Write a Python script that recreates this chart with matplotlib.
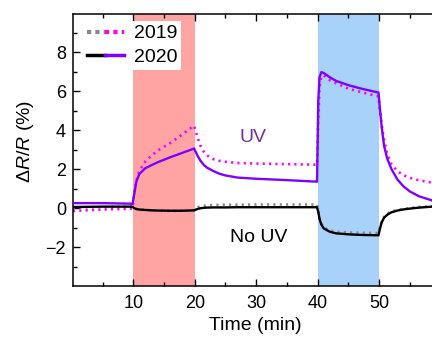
import matplotlib
matplotlib.use("Agg")
import matplotlib.pyplot as plt
from matplotlib.legend_handler import HandlerTuple
from matplotlib.lines import Line2D

plt.rcParams['font.family'] = ['Liberation Sans', 'DejaVu Sans']
plt.rcParams['mathtext.fontset'] = 'custom'
plt.rcParams['mathtext.rm'] = 'Liberation Sans'
plt.rcParams['mathtext.it'] = 'Liberation Sans:italic'

# time (min)
t = [0.2, 5, 9.9, 10.1, 10.5, 11, 12, 13, 14, 16, 18, 19.9, 20.2, 20.6, 21, 21.5, 22, 23, 24, 25,
     27, 30, 35, 39.9, 40.1, 40.3, 40.6, 41, 42, 43, 45, 47, 49.9, 50.1, 50.4, 50.8, 51.3, 52, 53,
     54, 55, 56.5, 59.5]

uv_2020 = [0.25, 0.25, 0.22, 0.6, 1.35, 1.75, 2.05, 2.2, 2.35, 2.6, 2.83, 3.05, 2.85, 2.6, 2.4, 2.2,
           2.07, 1.9, 1.76, 1.67, 1.56, 1.5, 1.43, 1.35, 5.5, 6.7, 6.97, 6.92, 6.7, 6.52, 6.3, 6.13,
           5.92, 5.2, 4.2, 3.2, 2.55, 2.0, 1.45, 1.1, 0.85, 0.6, 0.3]
uv_2019 = [-0.15, -0.08, -0.03, 0.6, 1.4, 1.9, 2.4, 2.7, 2.95, 3.33, 3.78, 4.22, 3.9, 3.5, 3.15,
           2.88, 2.7, 2.51, 2.42, 2.37, 2.31, 2.28, 2.25, 2.22, 4.5, 6.2, 6.75, 6.8, 6.55, 6.4, 6.12,
           5.95, 5.72, 5.1, 4.3, 3.5, 2.8, 2.25, 1.88, 1.68, 1.55, 1.42, 1.25]
nouv_2020 = [0.05, 0.07, 0.07, 0.0, -0.05, -0.08, -0.1, -0.12, -0.13, -0.14, -0.14, -0.12, -0.08,
             -0.04, -0.01, 0.01, 0.02, 0.03, 0.03, 0.03, 0.04, 0.04, 0.04, 0.04, -0.2, -0.55, -0.85,
             -1.05, -1.22, -1.3, -1.35, -1.38, -1.4, -1.1, -0.75, -0.5, -0.35, -0.22, -0.13, -0.07,
             -0.03, 0.02, 0.09]
nouv_2019 = [0.02, 0.05, 0.07, 0.0, -0.05, -0.08, -0.1, -0.12, -0.13, -0.15, -0.14, -0.12, -0.02,
             0.05, 0.09, 0.11, 0.13, 0.15, 0.16, 0.17, 0.17, 0.18, 0.18, 0.18, -0.15, -0.5, -0.8,
             -1.0, -1.15, -1.22, -1.25, -1.27, -1.28, -1.0, -0.7, -0.45, -0.3, -0.18, -0.1, -0.05,
             0.0, 0.05, 0.11]

red_span = (10, 20)
blue_span = (40, 50)

W, H = 432, 338
fig = plt.figure(figsize=(4.32, 3.38), dpi=100)
ax = fig.add_axes([73/W, 52/H, (440.6-73)/W, 272/H])

ax.axvspan(*red_span, color='#FFA3A3', lw=0, zorder=0)
ax.axvspan(*blue_span, color='#A8D2FA', lw=0, zorder=0)

dot = (0, (0.8, 1.6))
ax.plot(t, nouv_2019, color='#888888', lw=1.9, ls=dot, zorder=2)
ax.plot(t, nouv_2020, color='black', lw=1.7, zorder=3)
ax.plot(t, uv_2019, color='#FF00FF', lw=1.9, ls=dot, zorder=2)
ax.plot(t, uv_2020, color='#8000FF', lw=1.7, zorder=3)

ax.set_xlim(0.2, 60)
ax.set_ylim(-4, 9.95)
ax.set_xticks([10, 20, 30, 40, 50])
ax.set_xticks([5, 15, 25, 35, 45, 55], minor=True)
ax.set_yticks([-2, 0, 2, 4, 6, 8])
ax.set_yticks([-3, -1, 1, 3, 5, 7, 9], minor=True)
ax.tick_params(which='both', direction='in', top=True, right=False, labelsize=13, width=1.0)
ax.tick_params(which='major', length=5)
ax.tick_params(which='minor', length=3)
ax.tick_params(axis='x', pad=6.5)
ax.tick_params(axis='y', pad=5)
for s in ax.spines.values():
    s.set_linewidth(1.1)
ax.spines['right'].set_visible(False)

fig.text(255/W, 1-326/H, 'Time (min)', ha='center', va='center', fontsize=14)
fig.text(25/W, 1-141/H, r'Δ$R$/$R$ (%)', ha='center', va='center', rotation=90, fontsize=14)

fig.text(253/W, 1-138/H, 'UV', fontsize=14, color='#7030A0', ha='center', va='center')
fig.text(259/W, 1-238/H, 'No UV', fontsize=14, color='black', ha='center', va='center')

h19a = Line2D([], [], color='#888888', lw=3, ls=(0, (1, 1)))
h19b = Line2D([], [], color='#FF00FF', lw=3, ls=(0, (1, 1)))
h20a = Line2D([], [], color='black', lw=2.5)
h20b = Line2D([], [], color='#8000FF', lw=2.5)
leg = ax.legend([(h19a, h19b), (h20a, h20b)], ['2019', '2020'],
                handler_map={tuple: HandlerTuple(ndivide=None, pad=0)},
                loc='upper left', bbox_to_anchor=(83/W, 1-21/H), bbox_transform=fig.transFigure,
                fontsize=14, frameon=True, fancybox=False, framealpha=1, edgecolor='none',
                facecolor='white', borderpad=0.2, handlelength=1.9, handletextpad=0.5,
                labelspacing=0.3, borderaxespad=0)
leg.set_zorder(5)

fig.savefig('out.png', dpi=100)
